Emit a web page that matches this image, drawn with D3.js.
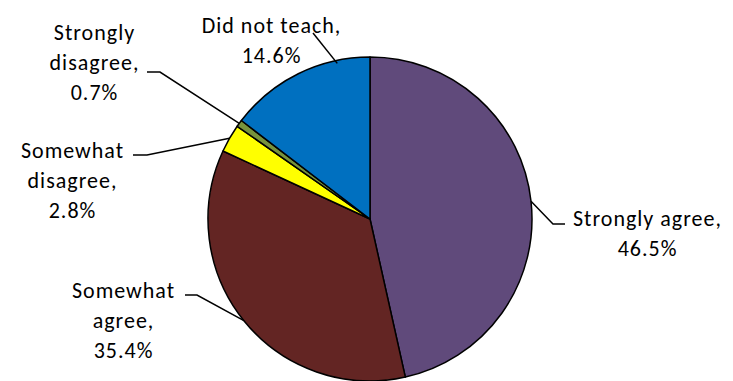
<!DOCTYPE html>
<html>
<head>
<meta charset="utf-8">
<script src="https://cdn.jsdelivr.net/npm/d3@7"></script>
<style>
  html, body { margin: 0; padding: 0; background: #fff; }
  svg { display: block; }
  text { font-family: Carlito, Calibri, Lato, "Open Sans", sans-serif; fill: #000; }
</style>
</head>
<body>
<svg id="chart" width="733" height="381"></svg>
<script>
// ---- data ----
const categories = ["Strongly agree", "Somewhat agree", "Somewhat disagree", "Strongly disagree", "Did not teach"];
const values = [46.5, 35.4, 2.8, 0.7, 14.6];
const labelLines = [
  ["Strongly agree,", "46.5%"],
  ["Somewhat", "agree,", "35.4%"],
  ["Somewhat", "disagree,", "2.8%"],
  ["Strongly", "disagree,", "0.7%"],
  ["Did not teach,", "14.6%"]
];
const colors = ["#604A7B", "#632523", "#FFFF00", "#77933C", "#0070C0"];

// ---- layout (positions kept separate from data) ----
const W = 733, H = 381;
const cx = 370, cy = 219, R = 162;
const fontSize = 22, lineH = 30, letterSpacing = 1.0;
// label text centre x, first baseline y, elbow points, optional anchor override (fraction of circle) and radius
const labelLayout = [
  { x: 647, y: 226, elbow: [[565, 224], [553, 224]] },
  { x: 123, y: 298, elbow: [[185, 295], [197, 295]] },
  { x: 72,  y: 158, elbow: [[133, 155], [147, 155]] },
  { x: 94,  y: 40,  elbow: [[147, 72], [160, 72]] },
  { x: 271, y: 33,  elbow: [[313, 33]], anchorFrac: 0.967, anchorR: 159 }
];

const svg = d3.select("#chart");
const g = svg.append("g").attr("transform", `translate(${cx},${cy})`);

const pie = d3.pie().sort(null).value(d => d).startAngle(0).endAngle(2 * Math.PI);
const arcs = pie(values);
const arc = d3.arc().innerRadius(0).outerRadius(R);

g.selectAll("path.slice")
  .data(arcs)
  .join("path")
  .attr("class", "slice")
  .attr("d", arc)
  .attr("fill", (d, i) => colors[i])
  .attr("stroke", "#000")
  .attr("stroke-width", 1.5)
  .attr("stroke-linejoin", "round");

// leader lines
const leaders = svg.append("g");
arcs.forEach((d, i) => {
  const L = labelLayout[i];
  const a = L.anchorFrac !== undefined ? L.anchorFrac * 2 * Math.PI : (d.startAngle + d.endAngle) / 2;
  const r = L.anchorR !== undefined ? L.anchorR : R;
  const ax = cx + r * Math.sin(a), ay = cy - r * Math.cos(a);
  const pts = L.elbow.concat([[ax, ay]]);
  leaders.append("path")
    .attr("d", d3.line()(pts))
    .attr("fill", "none")
    .attr("stroke", "#000")
    .attr("stroke-width", 1.5);
});

// labels
const labels = svg.append("g");
labelLines.forEach((lines, i) => {
  const L = labelLayout[i];
  const t = labels.append("text")
    .attr("text-anchor", "middle")
    .attr("font-size", fontSize)
    .attr("letter-spacing", letterSpacing);
  lines.forEach((s, j) => {
    t.append("tspan").attr("x", L.x + letterSpacing / 2).attr("y", L.y + j * lineH).text(s);
  });
});
</script>
</body>
</html>
